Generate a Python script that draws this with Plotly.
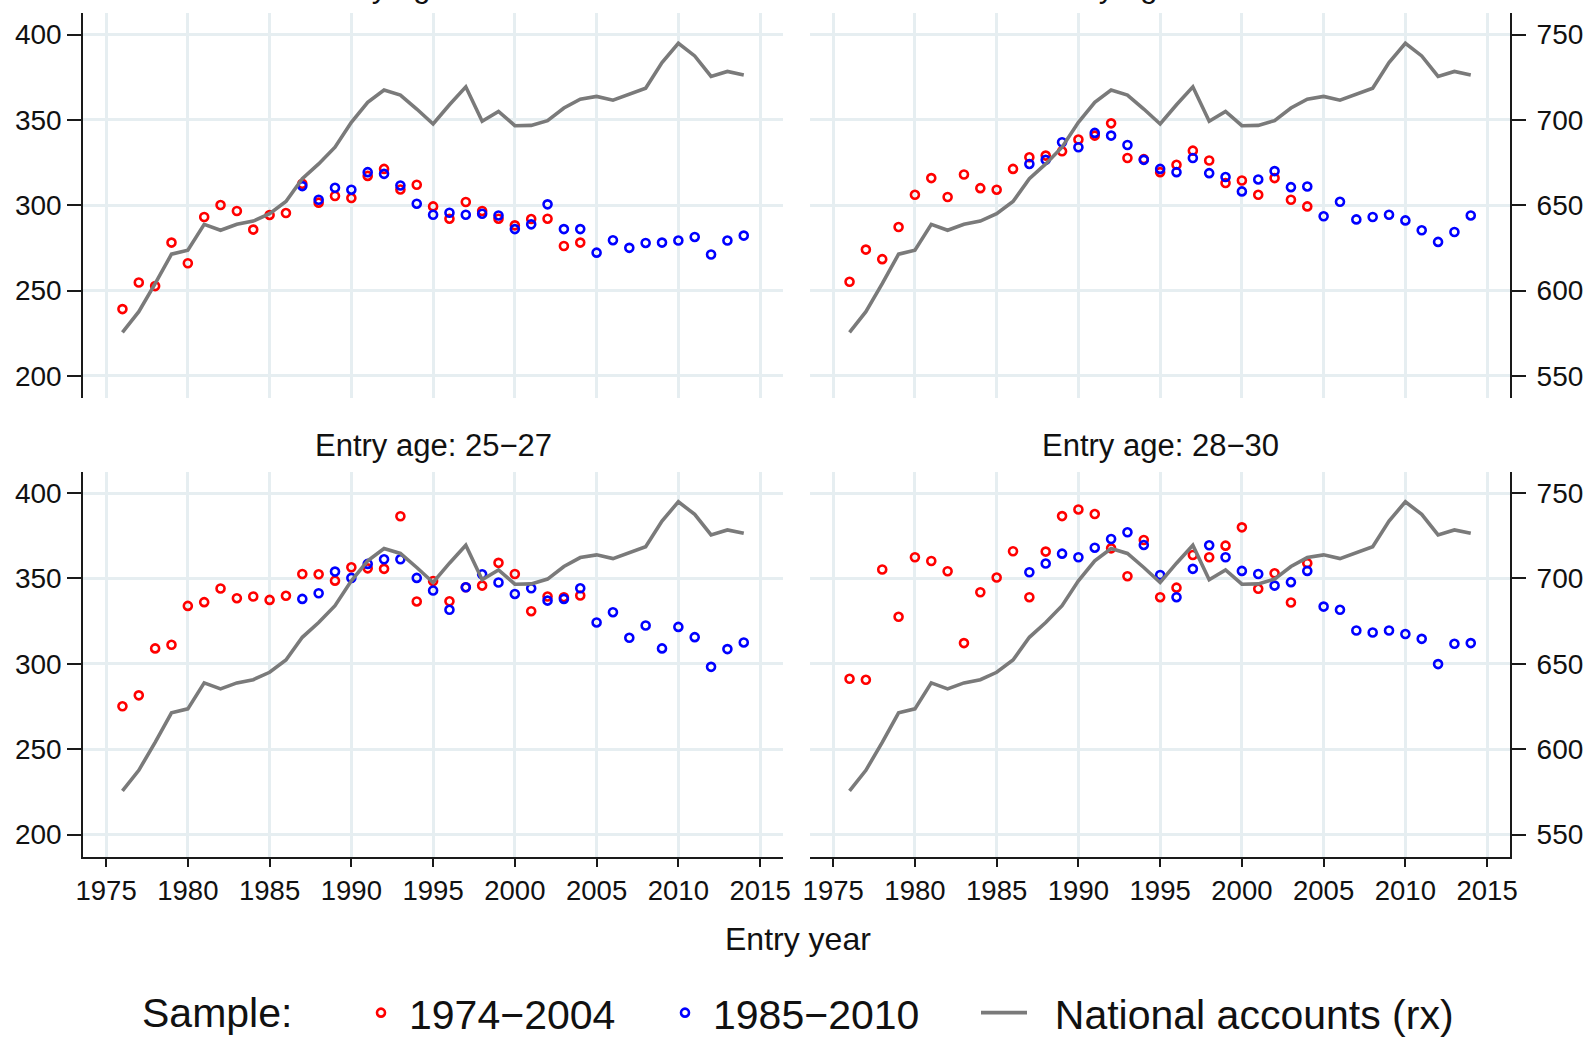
import plotly.graph_objects as go

# ---------------- data ----------------
years_na = list(range(1976, 2015))
national_accounts = [575.5, 587.6, 604.0, 621.3, 623.6, 638.8, 635.3, 638.8, 640.7, 645.0,
                     652.2, 665.5, 674.2, 684.0, 698.6, 710.3, 717.5, 714.6, 706.4, 697.6,
                     708.9, 719.4, 699.2, 705.0, 696.6, 696.8, 699.6, 707.0, 712.2, 713.8,
                     711.6, 715.1, 718.6, 733.6, 744.9, 737.5, 725.5, 728.4, 726.4]

years_s1 = list(range(1976, 2005))
years_s2 = list(range(1987, 2015))

age1921_s1 = [239.1, 254.7, 252.6, 278.1, 266.0, 293.1, 300.1, 296.6, 285.7, 294.3,
              295.4, 312.6, 301.5, 305.4, 304.2, 317.2, 321.3, 309.2, 312.0, 299.3,
              292.1, 301.9, 296.6, 292.1, 288.2, 291.9, 292.1, 276.1, 278.1]
age1921_s2 = [311.2, 303.2, 310.2, 309.1, 319.4, 318.4, 311.6, 300.9, 294.4, 295.6,
              294.4, 295.0, 294.0, 286.0, 288.8, 300.5, 286.0, 286.0, 272.2, 279.5,
              275.0, 277.9, 278.1, 279.3, 281.4, 271.1, 279.3, 282.2]

age2224_s1 = [255.1, 274.0, 268.4, 287.2, 306.1, 315.9, 304.8, 318.0, 310.0, 309.1,
              321.3, 328.1, 329.1, 331.6, 338.5, 340.8, 348.0, 327.7, 327.0, 319.4,
              323.7, 332.0, 326.2, 313.0, 314.5, 306.1, 315.9, 303.2, 299.3]
age2224_s2 = [324.2, 326.6, 336.9, 334.0, 342.4, 340.8, 335.3, 326.6, 321.3, 319.4,
              327.7, 318.8, 316.5, 308.1, 315.1, 320.0, 310.6, 311.0, 293.5, 302.0,
              291.7, 293.1, 294.4, 291.1, 285.3, 278.5, 284.3, 294.0]

age2527_s1 = [275.1, 281.5, 309.0, 311.1, 333.9, 336.1, 344.1, 338.4, 339.4, 337.4,
              339.8, 352.6, 352.4, 348.7, 356.5, 355.9, 355.6, 386.4, 336.5, 348.5,
              336.6, 344.8, 345.8, 359.1, 352.6, 330.8, 339.4, 339.0, 340.0]
age2527_s2 = [338.0, 341.3, 354.0, 350.3, 358.5, 361.2, 361.2, 350.3, 342.9, 331.6,
              344.8, 352.4, 347.6, 340.9, 344.2, 337.0, 338.0, 344.2, 324.2, 330.2,
              315.2, 322.4, 309.0, 321.6, 315.6, 298.2, 308.6, 312.5]

age2830_s1 = [291.2, 290.6, 355.2, 327.5, 362.4, 360.2, 354.2, 312.1, 341.9, 350.5,
              365.9, 339.0, 365.7, 386.5, 390.4, 387.7, 367.6, 351.3, 372.5, 339.0,
              344.6, 363.7, 362.4, 369.2, 379.9, 343.9, 353.0, 335.9, 358.9]
age2830_s2 = [353.6, 358.7, 364.5, 362.4, 368.0, 373.1, 377.0, 369.6, 352.0, 339.0,
              355.6, 369.4, 362.4, 354.4, 352.6, 345.8, 347.8, 354.4, 333.5, 331.6,
              319.5, 318.3, 319.5, 317.4, 314.6, 299.8, 311.7, 312.1]

panel_titles = ["Entry age: 19\u221221", "Entry age: 22\u221224",
                "Entry age: 25\u221227", "Entry age: 28\u221230"]
series_names = ["1974\u22122004", "1985\u22122010", "National accounts (rx)"]
legend_title = "Sample:"
x_ticks = [1975, 1980, 1985, 1990, 1995, 2000, 2005, 2010, 2015]
left_ticks = [200, 250, 300, 350, 400]
right_ticks = [550, 600, 650, 700, 750]

# ---------------- styling ----------------
FONT = "Arial, 'Liberation Sans', sans-serif"
GRID = "#e6eef1"
AX = "#1a1a1a"
RED = "#ff0000"
BLUE = "#0000ff"
GRAY = "#7a7a7a"
W, H = 1585, 1037

x_left_dom = [83.2 / W, 783 / W]
x_right_dom = [810.3 / W, 1510 / W]
y_top_dom = [1 - 398 / H, 1 - 13.3 / H]
y_bot_dom = [1 - 856.7 / H, 1 - 471.7 / H]
x_range = [1973.6, 2016.4]
left_range = [187.0, 412.5]
right_range = [537.0, 762.5]

panels = [
    dict(s1=age1921_s1, s2=age1921_s2, xd=x_left_dom, yd=y_top_dom, left=True, bottom=False),
    dict(s1=age2224_s1, s2=age2224_s2, xd=x_right_dom, yd=y_top_dom, left=False, bottom=False),
    dict(s1=age2527_s1, s2=age2527_s2, xd=x_left_dom, yd=y_bot_dom, left=True, bottom=True),
    dict(s1=age2830_s1, s2=age2830_s2, xd=x_right_dom, yd=y_bot_dom, left=False, bottom=True),
]

NB = "\u00a0"
legend_widths = [243, 258, 460]
legend_labels = [series_names[0], series_names[1], NB * 2 + series_names[2]]

fig = go.Figure()
layout = {}
annotations = []

for i, p in enumerate(panels):
    xn = i + 1
    yl = 2 * i + 1
    yr = 2 * i + 2
    xid = "x" if xn == 1 else f"x{xn}"
    ylid = "y" if yl == 1 else f"y{yl}"
    yrid = f"y{yr}"
    first = i == 0

    fig.add_trace(go.Scatter(
        x=years_s1, y=p["s1"], xaxis=xid, yaxis=ylid, mode="markers",
        name=legend_labels[0], legendgroup="s1", showlegend=first, legendwidth=legend_widths[0],
        marker=dict(symbol="circle-open", size=8, color=RED, line=dict(width=2.6, color=RED)),
    ))
    fig.add_trace(go.Scatter(
        x=years_s2, y=p["s2"], xaxis=xid, yaxis=ylid, mode="markers",
        name=legend_labels[1], legendgroup="s2", showlegend=first, legendwidth=legend_widths[1],
        marker=dict(symbol="circle-open", size=8, color=BLUE, line=dict(width=2.6, color=BLUE)),
    ))
    fig.add_trace(go.Scatter(
        x=years_na, y=national_accounts, xaxis=xid, yaxis=yrid, mode="lines",
        name=legend_labels[2], legendgroup="na", showlegend=first, legendwidth=legend_widths[2],
        line=dict(color=GRAY, width=3.6),
    ))

    xkey = "xaxis" if xn == 1 else f"xaxis{xn}"
    layout[xkey] = dict(
        domain=p["xd"], range=x_range, anchor=ylid,
        tickmode="array", tickvals=x_ticks, ticktext=[str(t) for t in x_ticks],
        showgrid=True, gridcolor=GRID, gridwidth=3, zeroline=False,
        showline=p["bottom"], linecolor=AX, linewidth=2,
        ticks="outside" if p["bottom"] else "", ticklen=8, tickwidth=2, tickcolor=AX,
        showticklabels=p["bottom"], tickfont=dict(family=FONT, size=27.5, color="#111"),
    )
    ylkey = "yaxis" if yl == 1 else f"yaxis{yl}"
    layout[ylkey] = dict(
        domain=p["yd"], range=left_range, anchor=xid,
        tickmode="array", tickvals=left_ticks, ticktext=[str(t) for t in left_ticks],
        showgrid=True, gridcolor=GRID, gridwidth=3, zeroline=False,
        showline=p["left"], linecolor=AX, linewidth=2,
        ticks="outside" if p["left"] else "", ticklen=14, tickwidth=2, tickcolor=AX,
        showticklabels=p["left"], tickfont=dict(family=FONT, size=28, color="#111"),
        ticklabelstandoff=0,
    )
    layout[f"yaxis{yr}"] = dict(
        domain=p["yd"], range=right_range, anchor=xid, overlaying=ylid, side="right",
        tickmode="array", tickvals=right_ticks, ticktext=[str(t) for t in right_ticks],
        showgrid=False, zeroline=False,
        showline=not p["left"], linecolor=AX, linewidth=2,
        ticks="outside" if not p["left"] else "", ticklen=14, tickwidth=2, tickcolor=AX,
        showticklabels=not p["left"], tickfont=dict(family=FONT, size=28, color="#111"),
        ticklabelstandoff=5,
    )

    cx = (p["xd"][0] + p["xd"][1]) / 2
    ty = p["yd"][1] + 26.5 / H
    annotations.append(dict(
        text=panel_titles[i], x=cx, y=ty, xref="paper", yref="paper",
        xanchor="center", yanchor="middle", showarrow=False,
        font=dict(family=FONT, size=31, color="#111"),
    ))

annotations.append(dict(
    text="Entry year", x=797.5 / W, y=1 - 939 / H, xref="paper", yref="paper",
    xanchor="center", yanchor="middle", showarrow=False,
    font=dict(family=FONT, size=32, color="#111"),
))
annotations.append(dict(
    text=legend_title, x=140 / W, y=1 - 1013 / H, xref="paper", yref="paper",
    xanchor="left", yanchor="middle", showarrow=False,
    font=dict(family=FONT, size=41, color="#111"),
))

fig.update_layout(
    width=W, height=H,
    margin=dict(l=0, r=0, t=0, b=0, autoexpand=False),
    paper_bgcolor="white", plot_bgcolor="white",
    font=dict(family=FONT, color="#111"),
    annotations=annotations,
    showlegend=True,
    legend=dict(
        orientation="h", x=353 / W, xanchor="left", y=1 - 1013 / H, yanchor="middle",
        font=dict(family=FONT, size=41, color="#111"),
        itemwidth=46, entrywidthmode="pixels",
        bgcolor="rgba(0,0,0,0)", borderwidth=0,
        itemclick=False, itemdoubleclick=False,
    ),
    **layout,
)

fig.write_html("out.html", config={"displayModeBar": False},
               post_script="document.body.style.margin='0px';")
